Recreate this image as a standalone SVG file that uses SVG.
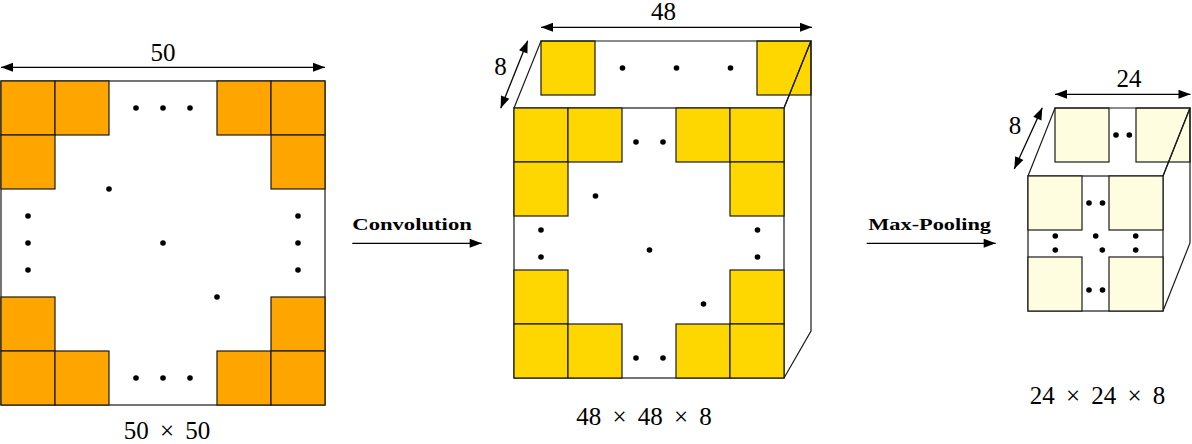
<svg xmlns="http://www.w3.org/2000/svg" width="1192" height="444" viewBox="0 0 1192 444">
<style>
.bg{fill:#ffffff}
.frame{fill:#ffffff;stroke:#1a1a1a;stroke-width:1.2}
.edge{fill:none;stroke:#1a1a1a;stroke-width:1.2;stroke-linejoin:miter}
.orange{fill:#FFA500;stroke:#1a1a1a;stroke-width:1.2}
.gold{fill:#FFD700;stroke:#1a1a1a;stroke-width:1.2}
.light{fill:#FFFDE0;stroke:#1a1a1a;stroke-width:1.2}
.dot{fill:#000000}
.arrow{fill:none;stroke:#000000;stroke-width:1.3;marker-start:url(#head);marker-end:url(#head)}
.arrow1{fill:none;stroke:#000000;stroke-width:1.3;marker-end:url(#head)}
.num{font-family:'Liberation Serif','DejaVu Serif',serif;font-size:25px;fill:#000000}
.dim{font-family:'Liberation Serif','DejaVu Serif',serif;font-size:25px;fill:#000000;text-anchor:middle;word-spacing:5px}
.op{font-family:'Liberation Serif','DejaVu Serif',serif;font-size:17px;font-weight:bold;fill:#000000}
</style>
<defs>
<marker id="head" viewBox="-13 -6 14 12" refX="0" refY="0" markerWidth="14" markerHeight="12" markerUnits="userSpaceOnUse" orient="auto-start-reverse" overflow="visible">
<path d="M-12,-4.5 L0,0 L-12,4.5 Z" fill="#000000"/>
</marker>
</defs>
<rect class="bg" x="0" y="0" width="1192" height="444"/>

<g id="input-map">
<rect class="frame" x="1" y="81" width="324" height="324"/>
<rect class="orange" x="1" y="81" width="54" height="54"/>
<rect class="orange" x="55" y="81" width="54" height="54"/>
<rect class="orange" x="217" y="81" width="54" height="54"/>
<rect class="orange" x="271" y="81" width="54" height="54"/>
<rect class="orange" x="1" y="135" width="54" height="54"/>
<rect class="orange" x="271" y="135" width="54" height="54"/>
<rect class="orange" x="1" y="297" width="54" height="54"/>
<rect class="orange" x="271" y="297" width="54" height="54"/>
<rect class="orange" x="1" y="351" width="54" height="54"/>
<rect class="orange" x="55" y="351" width="54" height="54"/>
<rect class="orange" x="217" y="351" width="54" height="54"/>
<rect class="orange" x="271" y="351" width="54" height="54"/>
<circle class="dot" cx="136" cy="108" r="2.8"/>
<circle class="dot" cx="163" cy="108" r="2.8"/>
<circle class="dot" cx="190" cy="108" r="2.8"/>
<circle class="dot" cx="109" cy="189" r="2.8"/>
<circle class="dot" cx="28" cy="216" r="2.8"/>
<circle class="dot" cx="28" cy="243" r="2.8"/>
<circle class="dot" cx="28" cy="270" r="2.8"/>
<circle class="dot" cx="298" cy="216" r="2.8"/>
<circle class="dot" cx="298" cy="243" r="2.8"/>
<circle class="dot" cx="298" cy="270" r="2.8"/>
<circle class="dot" cx="163" cy="243" r="2.8"/>
<circle class="dot" cx="217" cy="297" r="2.8"/>
<circle class="dot" cx="136" cy="378" r="2.8"/>
<circle class="dot" cx="163" cy="378" r="2.8"/>
<circle class="dot" cx="190" cy="378" r="2.8"/>
<text class="num" x="163" y="61" text-anchor="middle">50</text>
<text class="dim" x="167" y="439">50 × 50</text>
</g>

<g id="conv-volume">
<rect class="gold" x="541" y="41" width="54" height="54"/>
<rect class="gold" x="757" y="41" width="54" height="54"/>
<circle class="dot" cx="622.5" cy="68" r="2.8"/>
<circle class="dot" cx="676.5" cy="68" r="2.8"/>
<circle class="dot" cx="730.5" cy="68" r="2.8"/>
<path class="edge" d="M514,108 L541,41 L811,41 L784,108"/>
<path class="edge" d="M784,108 L811,41 L811,331 L784,378"/>
<rect class="frame" x="514" y="108" width="270" height="270"/>
<rect class="gold" x="514" y="108" width="54" height="54"/>
<rect class="gold" x="568" y="108" width="54" height="54"/>
<rect class="gold" x="676" y="108" width="54" height="54"/>
<rect class="gold" x="730" y="108" width="54" height="54"/>
<rect class="gold" x="514" y="162" width="54" height="54"/>
<rect class="gold" x="730" y="162" width="54" height="54"/>
<rect class="gold" x="514" y="270" width="54" height="54"/>
<rect class="gold" x="730" y="270" width="54" height="54"/>
<rect class="gold" x="514" y="324" width="54" height="54"/>
<rect class="gold" x="568" y="324" width="54" height="54"/>
<rect class="gold" x="676" y="324" width="54" height="54"/>
<rect class="gold" x="730" y="324" width="54" height="54"/>
<circle class="dot" cx="636" cy="142" r="2.8"/>
<circle class="dot" cx="663" cy="142" r="2.8"/>
<circle class="dot" cx="595.5" cy="196" r="2.8"/>
<circle class="dot" cx="541" cy="230" r="2.8"/>
<circle class="dot" cx="541" cy="257" r="2.8"/>
<circle class="dot" cx="649.5" cy="250" r="2.8"/>
<circle class="dot" cx="757.5" cy="230" r="2.8"/>
<circle class="dot" cx="757.5" cy="257" r="2.8"/>
<circle class="dot" cx="703.5" cy="304" r="2.8"/>
<circle class="dot" cx="636" cy="358" r="2.8"/>
<circle class="dot" cx="663" cy="358" r="2.8"/>
<text class="num" x="663.5" y="20" text-anchor="middle">48</text>
<text class="num" x="500.5" y="75" text-anchor="middle">8</text>
<text class="dim" x="644" y="425">48 × 48 × 8</text>
</g>

<g id="pool-volume">
<rect class="light" x="1055" y="108" width="54" height="54"/>
<rect class="light" x="1136" y="108" width="54" height="54"/>
<circle class="dot" cx="1116" cy="135" r="2.8"/>
<circle class="dot" cx="1129.3" cy="135" r="2.8"/>
<path class="edge" d="M1028,176 L1055,108 L1190,108 L1163,176"/>
<path class="edge" d="M1163,176 L1190,108 L1190,243 L1163,311"/>
<rect class="frame" x="1028" y="176" width="135" height="135"/>
<rect class="light" x="1028" y="176" width="54" height="54"/>
<rect class="light" x="1109" y="176" width="54" height="54"/>
<rect class="light" x="1028" y="257" width="54" height="54"/>
<rect class="light" x="1109" y="257" width="54" height="54"/>
<circle class="dot" cx="1089" cy="203" r="2.8"/>
<circle class="dot" cx="1102.5" cy="203" r="2.8"/>
<circle class="dot" cx="1055.3" cy="236" r="2.8"/>
<circle class="dot" cx="1055.3" cy="250" r="2.8"/>
<circle class="dot" cx="1095.7" cy="236" r="2.8"/>
<circle class="dot" cx="1102.3" cy="250" r="2.8"/>
<circle class="dot" cx="1135.7" cy="236" r="2.8"/>
<circle class="dot" cx="1135.7" cy="250" r="2.8"/>
<circle class="dot" cx="1089" cy="290" r="2.8"/>
<circle class="dot" cx="1102.5" cy="290" r="2.8"/>
<text class="num" x="1129" y="87" text-anchor="middle">24</text>
<text class="num" x="1015" y="134" text-anchor="middle">8</text>
<text class="dim" x="1097.5" y="404">24 × 24 × 8</text>
</g>

<g id="connectors">
<line class="arrow" x1="1" y1="67.3" x2="325" y2="67.3"/>
<line class="arrow" x1="541" y1="27.3" x2="812" y2="27.3"/>
<line class="arrow" x1="527.7" y1="40.7" x2="500.7" y2="108.3"/>
<line class="arrow" x1="1055" y1="94.3" x2="1190.5" y2="94.3"/>
<line class="arrow" x1="1042.3" y1="107.7" x2="1014.3" y2="169"/>
<line class="arrow1" x1="352.3" y1="243.3" x2="481.7" y2="243.3"/>
<line class="arrow1" x1="866.7" y1="243.3" x2="995.7" y2="243.3"/>
<text class="op" x="352.3" y="230" textLength="119.5" lengthAdjust="spacingAndGlyphs">Convolution</text>
<text class="op" x="868.3" y="230" textLength="122.7" lengthAdjust="spacingAndGlyphs">Max-Pooling</text>
</g>
</svg>
